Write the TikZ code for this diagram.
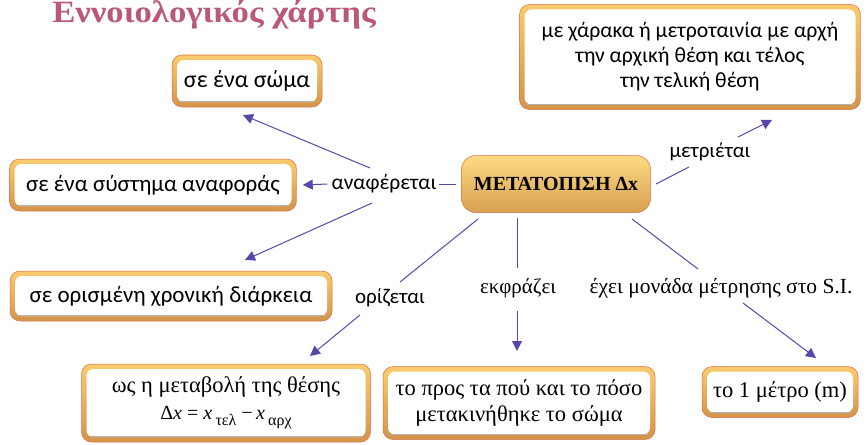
\documentclass[tikz,border=0pt]{standalone}
\usepackage{fontspec}
\setmainfont{Carlito}
\newfontfamily\serifgr{Liberation Serif}
\newfontfamily\titlefont[FakeStretch=1.12]{Liberation Serif}
\usetikzlibrary{arrows.meta}
\definecolor{titlecol}{RGB}{186,88,120}
\definecolor{arrcol}{RGB}{90,70,170}
\definecolor{btop}{RGB}{250,204,110}
\definecolor{bbot}{RGB}{212,148,74}
\definecolor{bout}{RGB}{220,110,70}
\definecolor{ctop}{RGB}{253,218,130}
\definecolor{cbot}{RGB}{215,160,82}
\tikzset{
  cbox/.style={rounded corners=10pt, top color=btop, bottom color=bbot, draw=bout, line width=0.5pt,
    align=center, inner sep=0pt, font=\fontsize{23}{25}\selectfont,
    path picture={\fill[white, rounded corners=7pt]
      ([shift={(5pt,-5pt)}]path picture bounding box.north west) rectangle
      ([shift={(-5pt,5pt)}]path picture bounding box.south east);
      \draw[gray!60, line width=0.8pt, rounded corners=7pt]
      ([shift={(7pt,5.5pt)}]path picture bounding box.south west) -- ([shift={(-7pt,5.5pt)}]path picture bounding box.south east);}},
  cenbox/.style={rounded corners=14pt, top color=ctop, bottom color=cbot, draw=bout, line width=0.5pt,
    align=center, inner sep=0pt, font=\serifgr\bfseries\fontsize{20}{25}\selectfont},
  lbl/.style={inner sep=1pt, font=\fontsize{21.5}{24}\selectfont},
  slbl/.style={inner sep=1pt, font=\serifgr\fontsize{21.5}{24}\selectfont},
  conn/.style={draw=arrcol, line width=1pt},
  arr/.style={conn, -{Triangle[length=10pt,width=10pt]}}
}
\begin{document}
\begin{tikzpicture}[x=1pt,y=-1pt]
\useasboundingbox (0,0) rectangle (866,444);
\node[font=\titlefont\bfseries\fontsize{31}{32}\selectfont, text=titlecol, anchor=base, inner sep=0pt] (title) at (214,23) {Εννοιολογικός χάρτης};

\node[cenbox, minimum width=189pt, minimum height=57pt] (cen) at (556,184) {ΜΕΤΑΤΟΠΙΣΗ Δx};

\node[cbox, minimum width=150pt, minimum height=52pt, font=\fontsize{24}{25}\selectfont] (soma) at (247,81) {σε ένα σώμα};
\node[cbox, minimum width=287pt, minimum height=52pt] (sys) at (153,185) {σε ένα σύστημα αναφοράς};
\node[cbox, minimum width=322pt, minimum height=50pt] (xron) at (171,296) {σε ορισμένη χρονική διάρκεια};
\node[cbox, minimum width=341pt, minimum height=105pt, font=\fontsize{21.7}{25}\selectfont] (xar) at (690,57) {με χάρακα ή μετροταινία με αρχή\\την αρχική θέση και τέλος\\την τελική θέση};
\node[cbox, minimum width=289pt, minimum height=78pt, font=\serifgr\fontsize{22.5}{27}\selectfont] (ws) at (226,403)
  {ως η μεταβολή της θέσης\\{\fontsize{20}{27}\selectfont Δ\textit{x} = \textit{x}\,\raisebox{-6pt}{\fontsize{16}{18}\selectfont τελ} −\,\textit{x}\,\raisebox{-6pt}{\fontsize{16}{18}\selectfont αρχ}}};
\node[cbox, minimum width=272pt, minimum height=73pt, font=\serifgr\fontsize{22.5}{26}\selectfont] (pros) at (519,403) {το προς τα πού και το πόσο\\μετακινήθηκε το σώμα};
\node[cbox, minimum width=156pt, minimum height=51pt, font=\serifgr\fontsize{22.5}{24}\selectfont] (metro) at (780,392) {το 1 μέτρο (m)};

\node[lbl] (anaf) at (384,184) {αναφέρεται};
\node[lbl, font=\fontsize{21}{24}\selectfont] (metr) at (710,152) {μετριέται};
\node[lbl, font=\fontsize{21}{24}\selectfont] (oriz) at (390,298) {ορίζεται};
\node[slbl, font=\serifgr\fontsize{21}{24}\selectfont] (ekfr) at (518,288) {εκφράζει};
\node[slbl] (mon) at (721,288) {έχει μονάδα μέτρησης στο S.I.};

% connector end points
\coordinate (a1) at (370,168); \coordinate (a1e) at (243,115);
\coordinate (a2) at (372,203); \coordinate (a2e) at (245,260);
\coordinate (m0) at (656,184); \coordinate (m0e) at (689,167);
\coordinate (m1) at (738,137); \coordinate (m1e) at (772,120);
\coordinate (o0) at (478,219); \coordinate (o0e) at (400,282);
\coordinate (o1) at (360,315); \coordinate (o1e) at (310,356);
\coordinate (e0) at (517,218); \coordinate (e0e) at (517,268);
\coordinate (e1) at (517,311); \coordinate (e1e) at (517,351);
\coordinate (u0) at (632,219); \coordinate (u0e) at (698,269);
\coordinate (u1) at (743,303); \coordinate (u1e) at (816,358);

\draw[conn] (anaf.east) ++(1pt,0) -- ([xshift=-5pt]cen.west);
\draw[arr] ([xshift=-3pt]anaf.west) -- ([xshift=6pt]sys.east);
\draw[arr] (a1) -- (a1e);
\draw[arr] (a2) -- (a2e);
\draw[conn] (m0) -- (m0e);
\draw[arr] (m1) -- (m1e);
\draw[conn] (o0) -- (o0e);
\draw[arr] (o1) -- (o1e);
\draw[conn] (e0) -- (e0e);
\draw[arr] (e1) -- (e1e);
\draw[conn] (u0) -- (u0e);
\draw[arr] (u1) -- (u1e);
\end{tikzpicture}
\end{document}
